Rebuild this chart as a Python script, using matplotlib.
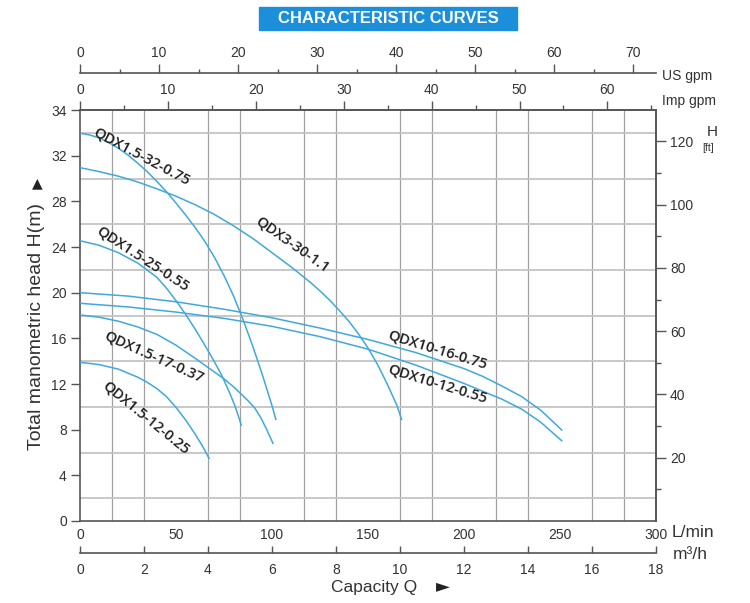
import numpy as np
import matplotlib
matplotlib.use('Agg')
import matplotlib.pyplot as plt
from matplotlib.patches import Rectangle

plt.rcParams['font.family'] = ['Liberation Sans', 'DejaVu Sans']

# ---- data (flow in L/min, head in chart units) ----
names = ['QDX1.5-32-0.75', 'QDX3-30-1.1', 'QDX1.5-25-0.55', 'QDX10-16-0.75',
         'QDX10-12-0.55', 'QDX1.5-17-0.37', 'QDX1.5-12-0.25']

q_32 = [0, 5, 10, 15, 20, 25, 30, 35, 40, 45, 50, 55, 60, 65, 70, 75, 80, 85, 90, 95, 100, 102]
h_32 = [33.96, 33.82, 33.55, 33.15, 32.65, 32.05, 31.35, 30.6, 29.75, 28.85, 27.85,
        26.8, 25.7, 24.5, 23.1, 21.5, 19.7, 17.6, 15.3, 12.8, 10.1, 8.9]

q_30 = [0, 10, 20, 30, 40, 50, 60, 70, 80, 90, 100, 110, 120, 125, 130, 135, 140,
        145, 150, 155, 160, 165, 167.5]
h_30 = [30.95, 30.6, 30.2, 29.7, 29.1, 28.45, 27.7, 26.85, 25.85, 24.75, 23.5, 22.25,
        20.9, 20.15, 19.35, 18.45, 17.5, 16.4, 15.15, 13.7, 12.0, 10.15, 8.9]

q_25 = [0, 10, 20, 30, 40, 45, 50, 55, 60, 65, 70, 74, 78, 81, 84]
h_25 = [24.55, 24.15, 23.5, 22.6, 21.35, 20.4, 19.3, 18.1, 16.8, 15.4, 13.95, 12.7,
        11.2, 9.95, 8.4]

q_1016 = [0, 25, 50, 75, 100, 125, 150, 175, 200, 210, 220, 230, 240, 250.9]
h_1016 = [20.0, 19.7, 19.2, 18.55, 17.8, 16.9, 15.9, 14.75, 13.35, 12.65, 11.8, 10.9,
          9.7, 7.97]

q_1012 = [0, 25, 50, 75, 100, 125, 150, 175, 200, 210, 220, 230, 240, 250.9]
h_1012 = [19.07, 18.75, 18.3, 17.75, 17.05, 16.15, 15.05, 13.65, 12.05, 11.35, 10.65,
          9.8, 8.65, 7.03]

q_17 = [0, 10, 20, 30, 40, 50, 60, 65, 70, 75, 80, 85, 88, 91, 94, 97, 100.5]
h_17 = [18.05, 17.85, 17.5, 17.0, 16.35, 15.4, 14.25, 13.65, 13.05, 12.45, 11.75,
        10.95, 10.45, 9.9, 9.1, 8.1, 6.8]

q_12 = [0, 10, 20, 30, 35, 40, 45, 50, 55, 60, 64, 67.2]
h_12 = [13.9, 13.7, 13.3, 12.6, 12.15, 11.6, 10.9, 9.95, 8.85, 7.6, 6.5, 5.49]

flows = [q_32, q_30, q_25, q_1016, q_1012, q_17, q_12]
heads = [h_32, h_30, h_25, h_1016, h_1012, h_17, h_12]

# tick labels
lmin_ticks = [0, 50, 100, 150, 200, 250, 300]
head_ticks = [0, 4, 8, 12, 16, 20, 24, 28, 32, 36]
head_labels = ['0', '4', '8', '12', '16', '20', '24', '28', '32', '34']
ft_ticks = [20, 40, 60, 80, 100, 120]
m3h_ticks = [0, 2, 4, 6, 8, 10, 12, 14, 16, 18]
usgpm_ticks = [0, 10, 20, 30, 40, 50, 60, 70]
impgpm_ticks = [0, 10, 20, 30, 40, 50, 60]

# label placement (data coords) and rotation
lab_pos = [(32.3, 31.97), (110.4, 24.18), (32.8, 22.95), (185.9, 14.98),
           (185.9, 12.0), (38.5, 14.37), (34.4, 9.02)]
lab_rot = [-28, -35, -33, -17, -17, -24, -39]

W, H = 750, 603
def fx(px): return px / W
def fy(py): return 1 - py / H

spine_c = '#555555'
txt_c = '#333333'
curve_c = '#3fa9dc'

fig = plt.figure(figsize=(7.5, 6.03), dpi=100)

# title box
fig.patches.append(Rectangle((fx(259), fy(30)), fx(517) - fx(259), fy(7) - fy(30),
                             transform=fig.transFigure, color='#1b8fd9', zorder=0))
fig.text(fx(388), fy(18.5), 'CHARACTERISTIC CURVES', color='white', fontsize=12,
         fontweight='bold', ha='center', va='center')

ax = fig.add_axes([fx(80), fy(521), fx(656) - fx(80), fy(110) - fy(521)])
ax.set_xlim(0, 300)
ax.set_ylim(0, 36)
ax.set_xticks(lmin_ticks)
ax.set_xticks(np.arange(0, 300.1, 300 / 18), minor=True)
ax.set_yticks(head_ticks)
ax.set_yticklabels(head_labels)
ax.set_yticks(np.arange(0, 36.1, 2), minor=True)
ax.grid(which='minor', axis='x', color='#a0a0a0', lw=0.9)
ax.grid(which='minor', axis='y', color='#c4c4c4', lw=1.3)
ax.set_axisbelow(True)
ax.tick_params(axis='x', which='both', length=0, pad=5, labelsize=10, labelcolor=txt_c)
ax.tick_params(axis='y', which='major', length=6.5, width=1, color=spine_c, pad=3,
               labelsize=10, labelcolor=txt_c)
ax.tick_params(axis='y', which='minor', length=0)
for s in ax.spines.values():
    s.set_color(spine_c)
    s.set_linewidth(1.2)

for q, h in zip(flows, heads):
    ax.plot(q, h, color=curve_c, lw=1.1, zorder=3, solid_joinstyle='round')

for name, (x, y), r in zip(names, lab_pos, lab_rot):
    ax.text(x, y, name, rotation=r, rotation_mode='anchor', ha='center', va='center',
            fontsize=10.5, fontweight='semibold', color='#1e1e1e',
            family=['Open Sans', 'DejaVu Sans'], zorder=4)

# right axis in feet
ax2 = ax.twinx()
ax2.set_ylim(0, 129.9)
ax2.set_yticks(ft_ticks)
ax2.set_yticks(np.arange(10, 121, 20), minor=True)
ax2.tick_params(axis='y', which='major', length=7, width=1, color=spine_c, pad=3,
                labelsize=10, labelcolor=txt_c)
ax2.tick_params(axis='y', which='minor', length=3.5, width=1, color=spine_c)
for k, s in ax2.spines.items():
    s.set_visible(k == 'right')
    s.set_color(spine_c)
    s.set_linewidth(1.2)

def scale_axes(py, xmax, side):
    a = fig.add_axes([fx(80), fy(py), fx(656) - fx(80), 1e-4])
    a.patch.set_visible(False)
    a.set_xlim(0, xmax)
    a.set_yticks([])
    for k, s in a.spines.items():
        s.set_visible(k == side)
        s.set_color(spine_c)
        s.set_linewidth(1.2)
    return a

# US gpm
au = scale_axes(73, 576 / 7.9, 'top')
au.xaxis.set_ticks_position('top')
au.set_xticks(usgpm_ticks)
au.set_xticks(np.arange(5, 72, 10), minor=True)
au.tick_params(axis='x', which='major', direction='out', length=6.5, width=1,
               color=spine_c, pad=3, labelsize=10, labelcolor=txt_c)
au.tick_params(axis='x', which='minor', direction='out', length=3, width=1, color=spine_c)

# Imp gpm
ai = scale_axes(110, 576 / 8.79, 'top')
ai.xaxis.set_ticks_position('top')
ai.set_xticks(impgpm_ticks)
ai.set_xticks(np.arange(5, 66, 10), minor=True)
ai.tick_params(axis='x', which='major', direction='out', length=6.5, width=1,
               color=spine_c, pad=3, labelsize=10, labelcolor=txt_c)
ai.tick_params(axis='x', which='minor', direction='out', length=3.5, width=1, color=spine_c)

# m3/h
am = scale_axes(553, 18, 'bottom')
am.set_xticks(m3h_ticks)
am.tick_params(axis='x', which='major', direction='in', length=5, width=1,
               color=spine_c, pad=7, labelsize=10, labelcolor=txt_c)

# unit texts
fig.text(fx(662), fy(80), 'US gpm', fontsize=10, color=txt_c, va='baseline')
fig.text(fx(662), fy(105), 'Imp gpm', fontsize=10, color=txt_c, va='baseline')
fig.text(fx(672), fy(537), 'L/min', fontsize=12.5, color=txt_c, va='baseline')
fig.text(fx(673), fy(559), 'm³/h', fontsize=12.5, color=txt_c, va='baseline')
fig.text(fx(707), fy(136), 'H', fontsize=11, color=txt_c, va='baseline')
fig.text(fx(702), fy(151), '[ft]', fontsize=7.5, color=txt_c, va='baseline')
fig.text(fx(331), fy(592), 'Capacity Q', fontsize=12.5, color=txt_c, va='baseline')
fig.text(fx(436), fy(591), '►', fontsize=13, color='#222222', va='baseline',
         family=['DejaVu Sans'])
fig.text(fx(37), fy(326), 'Total manometric head H(m)', fontsize=14, color=txt_c,
         rotation=90, ha='center', va='center')
fig.text(fx(37), fy(183), '▲', fontsize=10, color='#222222', ha='center', va='center',
         family=['DejaVu Sans'])

fig.savefig('out.png', dpi=100)
